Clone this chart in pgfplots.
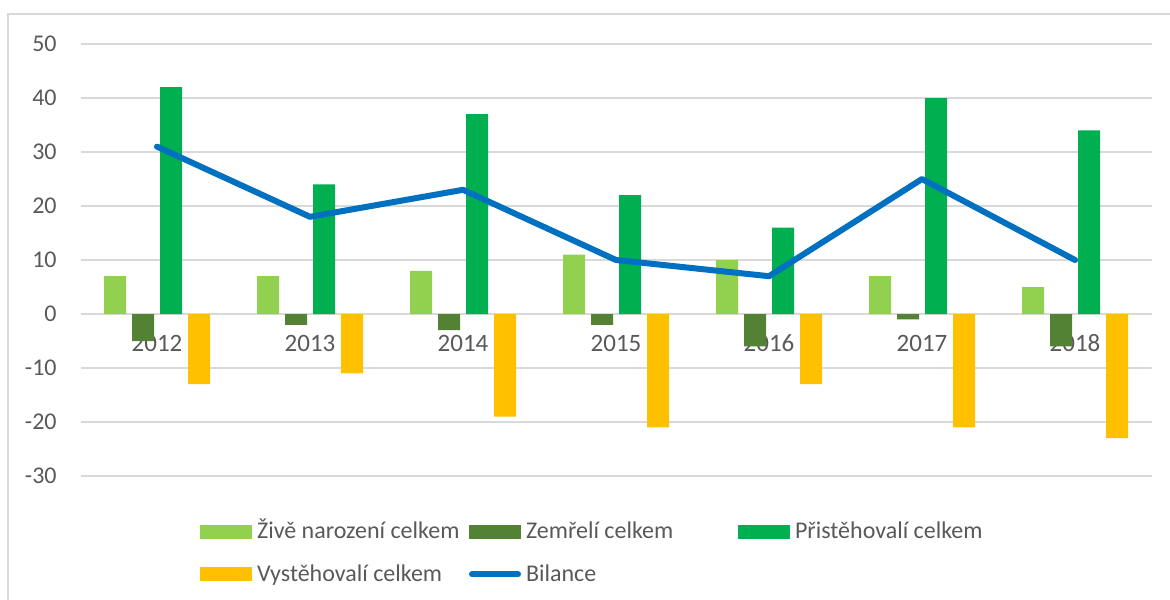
\documentclass[border=0pt]{standalone}
\usepackage{fontspec}
\setmainfont{Carlito}
\usepackage{pgfplots}
\pgfplotsset{compat=1.18}

\definecolor{lightgreen}{HTML}{92D050}
\definecolor{darkgreen}{HTML}{548235}
\definecolor{midgreen}{HTML}{00B050}
\definecolor{amber}{HTML}{FFC000}
\definecolor{lineblue}{HTML}{0070C0}
\definecolor{gridgray}{HTML}{D9D9D9}
\definecolor{labelgray}{HTML}{595959}

% fixed-width legend text, so the columns line up like in the original
\newcommand{\legtext}[1]{\makebox[108.5pt][l]{\hspace{2.5pt}\rule[-3pt]{0pt}{11pt}#1}}

\begin{document}
\begin{tikzpicture}
  \useasboundingbox (-40.25pt,-61.5pt) rectangle (544.75pt,238pt);
  % chart frame (only left and top edges are visible)
  \draw[gridgray, line width=0.75pt] (-36.25pt,-62pt) -- (-36.25pt,231pt) -- (546pt,231pt);
  \begin{axis}[
    scale only axis,
    width=535.5pt, height=216pt,
    xmin=-0.5, xmax=6.5,
    ymin=-30, ymax=50,
    axis line style={draw=none},
    major tick length=0pt,
    ytick={-30,-20,-10,0,10,20,30,40,50},
    yticklabels={-30,-20,-10,0,10,20,30,40,50},
    xtick={0,1,2,3,4,5,6},
    xticklabels={2012,2013,2014,2015,2016,2017,2018},
    ymajorgrids,
    grid style={gridgray, line width=0.75pt},
    tick label style={font=\fontsize{12}{14}\selectfont, text=labelgray},
    xticklabel style={font=\fontsize{12.5}{14}\selectfont},
    yticklabel style={anchor=east, inner sep=0pt, xshift=-11.75pt},
    xticklabel style={anchor=base, inner sep=0pt, yshift=62pt},
    legend columns=3,
    legend style={
      draw=none, fill=none, inner sep=0pt, outer sep=0pt,
      row sep=11.5pt, column sep=0pt,
      cells={anchor=base west}, nodes={inner sep=0pt},
      font=\fontsize{12}{14}\selectfont, text=labelgray,
      at={(0.1116,-0.0995)}, anchor=north west,
    },
  ]
  \addplot[ybar, bar width=11pt, bar shift=-21pt, fill=lightgreen, draw=none,
    legend image code/.code={\fill[lightgreen] (0pt,0pt) rectangle (26pt,7pt);}]
    coordinates {(0,7)(1,7)(2,8)(3,11)(4,10)(5,7)(6,5)};
  \addlegendentry{\legtext{Živě narození celkem}}
  \addplot[ybar, bar width=11pt, bar shift=-7pt, fill=darkgreen, draw=none,
    legend image code/.code={\fill[darkgreen] (0pt,0pt) rectangle (26pt,7pt);}]
    coordinates {(0,-5)(1,-2)(2,-3)(3,-2)(4,-6)(5,-1)(6,-6)};
  \addlegendentry{\legtext{Zemřelí celkem}}
  \addplot[ybar, bar width=11pt, bar shift=7pt, fill=midgreen, draw=none,
    legend image code/.code={\fill[midgreen] (0pt,0pt) rectangle (26pt,7pt);}]
    coordinates {(0,42)(1,24)(2,37)(3,22)(4,16)(5,40)(6,34)};
  \addlegendentry{\legtext{Přistěhovalí celkem}}
  \addplot[ybar, bar width=11pt, bar shift=21pt, fill=amber, draw=none,
    legend image code/.code={\fill[amber] (0pt,0pt) rectangle (26pt,7pt);}]
    coordinates {(0,-13)(1,-11)(2,-19)(3,-21)(4,-13)(5,-21)(6,-23)};
  \addlegendentry{\legtext{Vystěhovalí celkem}}
  \addplot[lineblue, line width=3pt, line join=round, line cap=round, mark=none,
    legend image code/.code={\draw[lineblue, line width=3pt, line cap=round] (1.5pt,3.5pt) -- (24.5pt,3.5pt);}]
    coordinates {(0,31)(1,18)(2,23)(3,10)(4,7)(5,25)(6,10)};
  \addlegendentry{\legtext{Bilance}}
  \end{axis}
\end{tikzpicture}
\end{document}
